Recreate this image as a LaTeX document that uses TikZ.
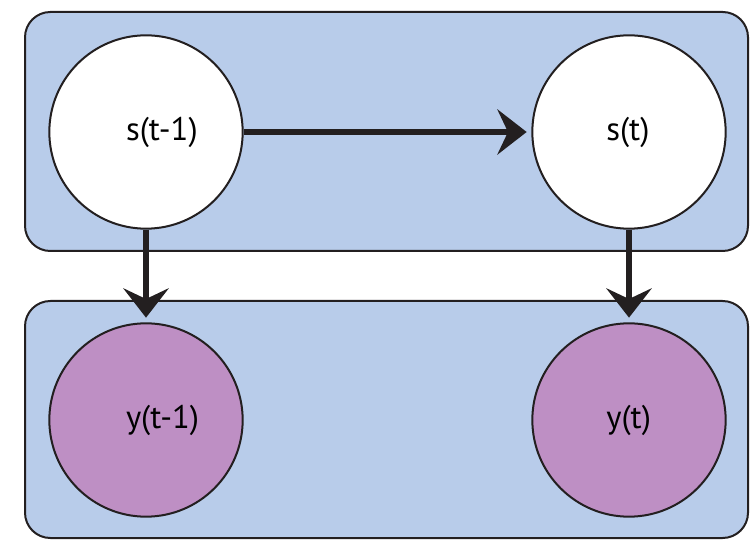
\documentclass[tikz,border=0pt]{standalone}
\usepackage{fontspec}
\setmainfont{PT Sans}
\usetikzlibrary{arrows.meta}

\definecolor{layerblue}{RGB}{184,204,234}
\definecolor{obspurple}{RGB}{190,143,196}
\definecolor{inkline}{RGB}{35,31,32}

\begin{document}
\begin{tikzpicture}[x=0.75pt, y=-0.75pt,
    layer/.style={draw=inkline, line width=1.5pt, fill=layerblue, rounded corners=19pt},
    state/.style={circle, draw=inkline, line width=1.5pt, fill=white, minimum size=145pt, inner sep=0pt, font=\fontsize{24.5}{28}\selectfont},
    obs/.style={state, fill=obspurple},
    link/.style={draw=inkline, line width=3.8pt, -{Stealth[length=22pt, width=34pt, inset=8pt]}, shorten >=3.5pt}]

    % Page with its white margins
    \fill[white] (0,0) rectangle (750,541);
    \useasboundingbox (0,0) rectangle (750,541);

    % Hidden and observed layers
    \draw[layer] (25,12) rectangle (748,251);
    \draw[layer] (25,301) rectangle (748,538);

    % Hidden states (top) and observations (bottom)
    \node[state] (s1) at (146,132) {\raisebox{4pt}{\makebox[30pt][l]{s(t-1)}}};
    \node[state] (s2) at (629,132) {\raisebox{4pt}{\makebox[34pt][l]{s(t)}}};
    \node[obs] (y1) at (146,420) {\raisebox{4pt}{\makebox[30pt][l]{y(t-1)}}};
    \node[obs] (y2) at (629,420) {\raisebox{4pt}{\makebox[34pt][l]{y(t)}}};

    % Transition and emissions
    \draw[link] (s1) -- (s2);
    \draw[link] (s1) -- (y1);
    \draw[link] (s2) -- (y2);
\end{tikzpicture}
\end{document}
